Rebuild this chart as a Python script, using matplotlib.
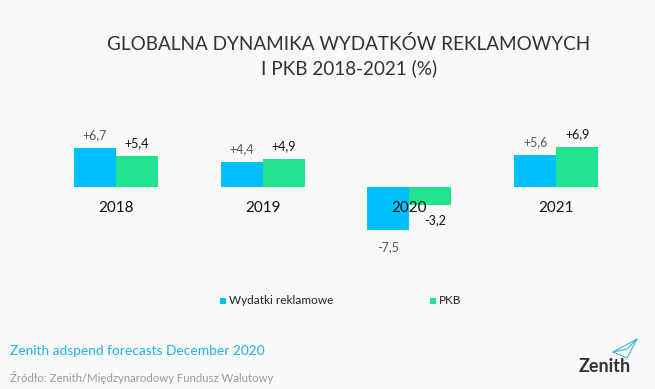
import matplotlib
matplotlib.use("Agg")
import matplotlib.pyplot as plt
import numpy as np

plt.rcParams["font.family"] = ["Lato", "DejaVu Sans"]

years = ["2018", "2019", "2020", "2021"]
adspend = [6.7, 4.4, -7.5, 5.6]
gdp = [5.4, 4.9, -3.2, 6.9]
adspend_labels = ["+6,7", "+4,4", "-7,5", "+5,6"]
gdp_labels = ["+5,4", "+4,9", "-3,2", "+6,9"]
series_names = ["Wydatki reklamowe", "PKB"]

BLUE = "#00c0fc"
GREEN = "#22e38e"
BG = "#fbf8f8"

W, H = 655, 389
fig = plt.figure(figsize=(W / 100, H / 100), dpi=100, facecolor=BG)

# axes covering the whole canvas, limits chosen so categories land where the original has them
x0_px, step_px = 116.0, 146.7           # first category centre, spacing (px)
base_px, unit_px = 187.0, 5.75          # zero line (px from top), px per percentage point
ax = fig.add_axes([0, 0, 1, 1])
ax.set_xlim(-x0_px / step_px, (W - x0_px) / step_px)
ax.set_ylim(-(H - base_px) / unit_px, base_px / unit_px)
ax.axis("off")
ax.patch.set_alpha(0)

x = np.arange(len(years))
bw = 42 / step_px
ax.bar(x - bw / 2, adspend, bw, color=BLUE, linewidth=0)
ax.bar(x + bw / 2, gdp, bw, color=GREEN, linewidth=0)

pad = 1.2
for i in range(len(years)):
    a, g = adspend[i], gdp[i]
    if a >= 0:
        ax.text(x[i] - bw / 2, a + pad, adspend_labels[i], ha="center", va="bottom",
                fontsize=9, color="#595959")
    else:
        ax.text(x[i] - bw / 2, a - 2.0, adspend_labels[i], ha="center", va="top",
                fontsize=9, color="#595959")
    if g >= 0:
        ax.text(x[i] + bw / 2, g + pad, gdp_labels[i], ha="center", va="bottom",
                fontsize=9, color="#111111")
    else:
        ax.text(x[i] + bw / 2 + 0.03, g - 1.6, gdp_labels[i], ha="center", va="top",
                fontsize=9, color="#111111")
    ax.text(x[i], -2.4, years[i], ha="center", va="top", fontsize=11, color="#111111")

fig.text(349 / W, 1 - 44 / H, "GLOBALNA DYNAMIKA WYDATKÓW REKLAMOWYCH",
         ha="center", va="center", fontsize=13.6, color="#333333")
fig.text(349 / W, 1 - 68 / H, "I PKB 2018-2021 (%)",
         ha="center", va="center", fontsize=13.6, color="#333333")

# legend
for sx, col, name in [(220, BLUE, series_names[0]), (430, GREEN, series_names[1])]:
    fig.patches.append(plt.Rectangle((sx / W, 1 - 304 / H), 6 / W, 6 / H,
                                     transform=fig.transFigure, color=col, lw=0))
    fig.text((sx + 9) / W, 1 - 301 / H, name, ha="left", va="center",
             fontsize=8.5, color="#222222")

fig.text(10 / W, 1 - 351 / H, "Zenith adspend forecasts December 2020",
         ha="left", va="center", fontsize=9.9, color="#1cb6e2")
fig.text(10 / W, 1 - 377 / H, "Źródło: Zenith/Międzynarodowy Fundusz Walutowy",
         ha="left", va="center", fontsize=8.2, color="#9a9a9a")

# logo
fig.text(605 / W, 1 - 367 / H, "Zenith", ha="center", va="center",
         fontsize=13, fontweight="bold", color="#333333")
px = np.array([613, 637, 627, 613, 627, 637]) / W
py = 1 - np.array([352, 339, 358, 352, 349, 339]) / H
fig.add_artist(plt.Line2D(px, py, transform=fig.transFigure, color="#3ab7dd", lw=0.8))

fig.savefig("out.png", dpi=100, facecolor=BG)
